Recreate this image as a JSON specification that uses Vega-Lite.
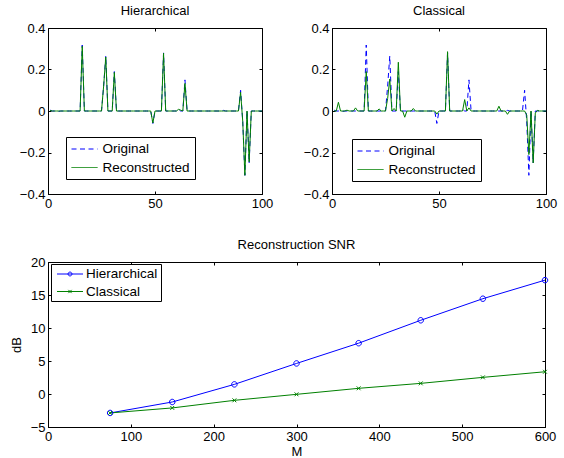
{
  "$schema": "https://vega.github.io/schema/vega-lite/v6.json",
  "padding": {"left": 9, "top": 4, "right": 5, "bottom": 5},
  "background": "white",
  "config": {
    "view": {"stroke": "black", "strokeWidth": 1},
    "axis": {"domainColor": "black", "domainWidth": 1, "tickColor": "black", "tickWidth": 1, "tickSize": -3, "labelPadding": 6, "labelFlush": false, "labelColor": "black", "labelFont": "Liberation Sans", "labelFontSize": 13, "titleFont": "Liberation Sans", "titleFontSize": 13, "titleFontWeight": "normal", "titleColor": "black", "grid": false},
    "title": {"font": "Liberation Sans", "fontSize": 13, "fontWeight": "normal", "color": "black", "offset": 4},
    "legend": {"labelFont": "Liberation Sans", "labelFontSize": 13.5, "labelColor": "black", "strokeColor": "black", "fillColor": "white", "cornerRadius": 0, "padding": 5, "title": null, "symbolType": "M-2,0H2", "symbolSize": 169, "symbolOffset": 6.5, "labelOffset": 11, "symbolStrokeWidth": 1, "symbolFillColor": "transparent"}
  },
  "datasets": {
    "hier": [
      {"x":1,"Original":0.004,"Reconstructed":0.003},{"x":2,"Original":0,"Reconstructed":0},{"x":3,"Original":0,"Reconstructed":0},{"x":4,"Original":0,"Reconstructed":0},{"x":5,"Original":-0.002,"Reconstructed":0},
      {"x":6,"Original":0,"Reconstructed":0},{"x":7,"Original":0,"Reconstructed":0},{"x":8,"Original":0,"Reconstructed":0},{"x":9,"Original":0,"Reconstructed":0},{"x":10,"Original":0,"Reconstructed":0},
      {"x":11,"Original":0,"Reconstructed":0},{"x":12,"Original":0,"Reconstructed":0},{"x":13,"Original":0,"Reconstructed":0},{"x":14,"Original":0,"Reconstructed":0},{"x":15,"Original":0,"Reconstructed":0},
      {"x":16,"Original":0.318,"Reconstructed":0.312},{"x":17,"Original":0,"Reconstructed":0},{"x":18,"Original":0,"Reconstructed":0},{"x":19,"Original":0,"Reconstructed":0},{"x":20,"Original":0,"Reconstructed":0},
      {"x":21,"Original":0,"Reconstructed":0},{"x":22,"Original":0,"Reconstructed":0},{"x":23,"Original":0,"Reconstructed":0},{"x":24,"Original":0,"Reconstructed":0},{"x":25,"Original":0,"Reconstructed":0},
      {"x":26,"Original":0.12,"Reconstructed":0.12},{"x":27,"Original":0.265,"Reconstructed":0.26},{"x":28,"Original":0,"Reconstructed":0},{"x":29,"Original":0,"Reconstructed":0},{"x":30,"Original":0,"Reconstructed":0},
      {"x":31,"Original":0.19,"Reconstructed":0.186},{"x":32,"Original":0,"Reconstructed":0},{"x":33,"Original":0,"Reconstructed":0},{"x":34,"Original":0,"Reconstructed":0},{"x":35,"Original":0,"Reconstructed":0},
      {"x":36,"Original":0,"Reconstructed":0},{"x":37,"Original":0,"Reconstructed":0},{"x":38,"Original":0,"Reconstructed":0},{"x":39,"Original":0,"Reconstructed":0},{"x":40,"Original":0,"Reconstructed":0},
      {"x":41,"Original":0,"Reconstructed":0},{"x":42,"Original":0,"Reconstructed":0},{"x":43,"Original":0,"Reconstructed":0},{"x":44,"Original":0,"Reconstructed":0},{"x":45,"Original":0,"Reconstructed":0},
      {"x":46,"Original":0,"Reconstructed":0},{"x":47,"Original":0,"Reconstructed":0},{"x":48,"Original":0,"Reconstructed":0},{"x":49,"Original":-0.06,"Reconstructed":-0.058},{"x":50,"Original":0,"Reconstructed":0},
      {"x":51,"Original":0,"Reconstructed":0},{"x":52,"Original":0,"Reconstructed":0},{"x":53,"Original":0,"Reconstructed":0},{"x":54,"Original":0.28,"Reconstructed":0.278},{"x":55,"Original":0,"Reconstructed":0},
      {"x":56,"Original":0,"Reconstructed":0},{"x":57,"Original":0,"Reconstructed":0},{"x":58,"Original":0,"Reconstructed":0},{"x":59,"Original":0,"Reconstructed":0},{"x":60,"Original":0,"Reconstructed":0},
      {"x":61,"Original":0.008,"Reconstructed":0.008},{"x":62,"Original":0,"Reconstructed":0.004},{"x":63,"Original":0,"Reconstructed":0},{"x":64,"Original":0.15,"Reconstructed":0.133},{"x":65,"Original":0,"Reconstructed":0},
      {"x":66,"Original":0,"Reconstructed":0},{"x":67,"Original":0,"Reconstructed":0},{"x":68,"Original":0,"Reconstructed":0},{"x":69,"Original":0.004,"Reconstructed":0},{"x":70,"Original":0,"Reconstructed":0},
      {"x":71,"Original":0,"Reconstructed":0},{"x":72,"Original":0,"Reconstructed":0},{"x":73,"Original":0,"Reconstructed":0},{"x":74,"Original":0,"Reconstructed":0},{"x":75,"Original":0,"Reconstructed":0},
      {"x":76,"Original":0,"Reconstructed":0},{"x":77,"Original":0,"Reconstructed":0},{"x":78,"Original":0,"Reconstructed":0},{"x":79,"Original":0,"Reconstructed":0},{"x":80,"Original":0,"Reconstructed":0},
      {"x":81,"Original":0,"Reconstructed":0},{"x":82,"Original":0.003,"Reconstructed":0},{"x":83,"Original":0,"Reconstructed":0},{"x":84,"Original":0,"Reconstructed":0},{"x":85,"Original":0,"Reconstructed":0},
      {"x":86,"Original":0,"Reconstructed":0},{"x":87,"Original":0,"Reconstructed":0},{"x":88,"Original":0,"Reconstructed":0},{"x":89,"Original":0,"Reconstructed":0},{"x":90,"Original":0.1,"Reconstructed":0.09},
      {"x":91,"Original":-0.05,"Reconstructed":-0.05},{"x":92,"Original":-0.31,"Reconstructed":-0.31},{"x":93,"Original":0,"Reconstructed":0},{"x":94,"Original":-0.25,"Reconstructed":-0.245},{"x":95,"Original":0,"Reconstructed":0},
      {"x":96,"Original":0,"Reconstructed":0},{"x":97,"Original":0,"Reconstructed":0},{"x":98,"Original":0,"Reconstructed":0},{"x":99,"Original":0,"Reconstructed":0},{"x":100,"Original":0,"Reconstructed":0}
    ],
    "clas": [
      {"x":1,"Original":0.004,"Reconstructed":0},{"x":2,"Original":0,"Reconstructed":0},{"x":3,"Original":0,"Reconstructed":0.042},{"x":4,"Original":0,"Reconstructed":0},{"x":5,"Original":-0.002,"Reconstructed":0},
      {"x":6,"Original":0,"Reconstructed":0},{"x":7,"Original":0,"Reconstructed":0.004},{"x":8,"Original":0,"Reconstructed":0},{"x":9,"Original":0,"Reconstructed":0},{"x":10,"Original":0,"Reconstructed":0},
      {"x":11,"Original":0,"Reconstructed":0.015},{"x":12,"Original":0,"Reconstructed":0},{"x":13,"Original":0,"Reconstructed":0},{"x":14,"Original":0,"Reconstructed":0},{"x":15,"Original":0,"Reconstructed":0},
      {"x":16,"Original":0.318,"Reconstructed":0.19},{"x":17,"Original":0,"Reconstructed":0},{"x":18,"Original":0,"Reconstructed":0},{"x":19,"Original":0,"Reconstructed":0},{"x":20,"Original":0,"Reconstructed":0},
      {"x":21,"Original":0,"Reconstructed":0},{"x":22,"Original":0,"Reconstructed":0.01},{"x":23,"Original":0,"Reconstructed":0},{"x":24,"Original":0,"Reconstructed":0},{"x":25,"Original":0,"Reconstructed":0},
      {"x":26,"Original":0.12,"Reconstructed":0.06},{"x":27,"Original":0.265,"Reconstructed":0.154},{"x":28,"Original":0,"Reconstructed":0},{"x":29,"Original":0,"Reconstructed":0.012},{"x":30,"Original":0,"Reconstructed":0},
      {"x":31,"Original":0.19,"Reconstructed":0.235},{"x":32,"Original":0,"Reconstructed":0},{"x":33,"Original":0,"Reconstructed":0},{"x":34,"Original":0,"Reconstructed":-0.03},{"x":35,"Original":0,"Reconstructed":0},
      {"x":36,"Original":0,"Reconstructed":0},{"x":37,"Original":0,"Reconstructed":0},{"x":38,"Original":0,"Reconstructed":0.012},{"x":39,"Original":0,"Reconstructed":0},{"x":40,"Original":0,"Reconstructed":0},
      {"x":41,"Original":0,"Reconstructed":0},{"x":42,"Original":0,"Reconstructed":0},{"x":43,"Original":0,"Reconstructed":0},{"x":44,"Original":0,"Reconstructed":0},{"x":45,"Original":0,"Reconstructed":0},
      {"x":46,"Original":0,"Reconstructed":0},{"x":47,"Original":0,"Reconstructed":0},{"x":48,"Original":0,"Reconstructed":0},{"x":49,"Original":-0.06,"Reconstructed":-0.015},{"x":50,"Original":0,"Reconstructed":0},
      {"x":51,"Original":0,"Reconstructed":0},{"x":52,"Original":0,"Reconstructed":0},{"x":53,"Original":0,"Reconstructed":0},{"x":54,"Original":0.28,"Reconstructed":0.286},{"x":55,"Original":0,"Reconstructed":0},
      {"x":56,"Original":0,"Reconstructed":0},{"x":57,"Original":0,"Reconstructed":0},{"x":58,"Original":0,"Reconstructed":0},{"x":59,"Original":0,"Reconstructed":0},{"x":60,"Original":0,"Reconstructed":0},
      {"x":61,"Original":0.008,"Reconstructed":0},{"x":62,"Original":0,"Reconstructed":0.055},{"x":63,"Original":0,"Reconstructed":0},{"x":64,"Original":0.15,"Reconstructed":0.015},{"x":65,"Original":0,"Reconstructed":0},
      {"x":66,"Original":0,"Reconstructed":0},{"x":67,"Original":0,"Reconstructed":0},{"x":68,"Original":0,"Reconstructed":0},{"x":69,"Original":0.004,"Reconstructed":0},{"x":70,"Original":0,"Reconstructed":0},
      {"x":71,"Original":0,"Reconstructed":0},{"x":72,"Original":0,"Reconstructed":0},{"x":73,"Original":0,"Reconstructed":0},{"x":74,"Original":0,"Reconstructed":0},{"x":75,"Original":0,"Reconstructed":0},
      {"x":76,"Original":0,"Reconstructed":0},{"x":77,"Original":0,"Reconstructed":0},{"x":78,"Original":0,"Reconstructed":0.023},{"x":79,"Original":0,"Reconstructed":0},{"x":80,"Original":0,"Reconstructed":0},
      {"x":81,"Original":0,"Reconstructed":0},{"x":82,"Original":0.003,"Reconstructed":-0.016},{"x":83,"Original":0,"Reconstructed":0},{"x":84,"Original":0,"Reconstructed":0},{"x":85,"Original":0,"Reconstructed":0},
      {"x":86,"Original":0,"Reconstructed":0},{"x":87,"Original":0,"Reconstructed":0},{"x":88,"Original":0,"Reconstructed":0},{"x":89,"Original":0,"Reconstructed":0},{"x":90,"Original":0.1,"Reconstructed":0},
      {"x":91,"Original":-0.05,"Reconstructed":-0.02},{"x":92,"Original":-0.31,"Reconstructed":-0.21},{"x":93,"Original":0,"Reconstructed":0},{"x":94,"Original":-0.25,"Reconstructed":-0.25},{"x":95,"Original":0,"Reconstructed":-0.01},
      {"x":96,"Original":0,"Reconstructed":0.003},{"x":97,"Original":0,"Reconstructed":0},{"x":98,"Original":0,"Reconstructed":0},{"x":99,"Original":0,"Reconstructed":0},{"x":100,"Original":0,"Reconstructed":0}
    ],
    "snr": [
      {"M":75,"dB":-2.87,"method":"Hierarchical"},{"M":150,"dB":-1.21,"method":"Hierarchical"},{"M":225,"dB":1.46,"method":"Hierarchical"},{"M":300,"dB":4.63,"method":"Hierarchical"},
      {"M":375,"dB":7.7,"method":"Hierarchical"},{"M":450,"dB":11.17,"method":"Hierarchical"},{"M":525,"dB":14.44,"method":"Hierarchical"},{"M":600,"dB":17.25,"method":"Hierarchical"},
      {"M":75,"dB":-2.87,"method":"Classical"},{"M":150,"dB":-2.11,"method":"Classical"},{"M":225,"dB":-0.96,"method":"Classical"},{"M":300,"dB":-0.05,"method":"Classical"},
      {"M":375,"dB":0.86,"method":"Classical"},{"M":450,"dB":1.61,"method":"Classical"},{"M":525,"dB":2.52,"method":"Classical"},{"M":600,"dB":3.37,"method":"Classical"}
    ]
  },
  "spacing": 27,
  "resolve": {"scale": {"color": "independent"}, "legend": {"color": "independent"}},
  "vconcat": [
    {
      "spacing": 28,
      "resolve": {"scale": {"color": "independent"}, "legend": {"color": "independent"}},
      "hconcat": [
        {
          "title": "Hierarchical",
          "width": 214, "height": 166,
          "data": {"name": "hier"},
          "transform": [{"fold": ["Original", "Reconstructed"], "as": ["series", "y"]}],
          "resolve": {"axis": {"x": "independent", "y": "independent"}},
          "layer": [
            {
              "transform": [{"filter": "datum.series === 'Original'"}],
              "mark": {"type": "line", "strokeWidth": 1, "strokeDash": [5, 3.5]},
              "encoding": {
                "x": {"field": "x", "type": "quantitative", "scale": {"domain": [0, 100], "nice": false}, "axis": {"orient": "bottom", "values": [0, 50, 100], "title": null}},
                "y": {"field": "y", "type": "quantitative", "scale": {"domain": [-0.4, 0.4], "nice": false, "zero": false}, "axis": {"orient": "left", "values": [-0.4, -0.2, 0, 0.2, 0.4], "format": "~g", "title": " ", "titlePadding": -4}},
                "color": {"field": "series", "type": "nominal", "scale": {"domain": ["Original", "Reconstructed"], "range": ["#0000ff", "#008000"]}, "legend": {"orient": "none", "legendX": 18, "legendY": 109, "rowPadding": 4.5, "encode": {"symbols": {"update": {"strokeDash": {"signal": "datum.value === 'Original' ? [5, 3.5] : [1, 0]"}, "fill": {"value": "transparent"}}}}}}
              }
            },
            {
              "transform": [{"filter": "datum.series === 'Reconstructed'"}],
              "mark": {"type": "line", "strokeWidth": 1},
              "encoding": {
                "x": {"field": "x", "type": "quantitative", "scale": {"domain": [0, 100], "nice": false}, "axis": {"orient": "top", "values": [0, 50, 100], "title": null, "labels": false, "domain": false}},
                "y": {"field": "y", "type": "quantitative", "scale": {"domain": [-0.4, 0.4], "nice": false, "zero": false}, "axis": {"orient": "right", "values": [-0.4, -0.2, 0, 0.2, 0.4], "title": null, "labels": false, "domain": false}},
                "color": {"field": "series", "type": "nominal", "scale": {"domain": ["Original", "Reconstructed"], "range": ["#0000ff", "#008000"]}, "legend": {"orient": "none", "legendX": 18, "legendY": 109, "rowPadding": 4.5, "encode": {"symbols": {"update": {"strokeDash": {"signal": "datum.value === 'Original' ? [5, 3.5] : [1, 0]"}, "fill": {"value": "transparent"}}}}}}
              }
            }
          ]
        },
        {
          "title": "Classical",
          "width": 214, "height": 166,
          "data": {"name": "clas"},
          "transform": [{"fold": ["Original", "Reconstructed"], "as": ["series", "y"]}],
          "resolve": {"axis": {"x": "independent", "y": "independent"}},
          "layer": [
            {
              "transform": [{"filter": "datum.series === 'Original'"}],
              "mark": {"type": "line", "strokeWidth": 1, "strokeDash": [5, 3.5]},
              "encoding": {
                "x": {"field": "x", "type": "quantitative", "scale": {"domain": [0, 100], "nice": false}, "axis": {"orient": "bottom", "values": [0, 50, 100], "title": null}},
                "y": {"field": "y", "type": "quantitative", "scale": {"domain": [-0.4, 0.4], "nice": false, "zero": false}, "axis": {"orient": "left", "values": [-0.4, -0.2, 0, 0.2, 0.4], "format": "~g", "title": null}},
                "color": {"field": "series", "type": "nominal", "scale": {"domain": ["Original", "Reconstructed"], "range": ["#0000ff", "#008000"]}, "legend": {"orient": "none", "legendX": 20, "legendY": 111, "rowPadding": 4.5, "encode": {"symbols": {"update": {"strokeDash": {"signal": "datum.value === 'Original' ? [5, 3.5] : [1, 0]"}, "fill": {"value": "transparent"}}}}}}
              }
            },
            {
              "transform": [{"filter": "datum.series === 'Reconstructed'"}],
              "mark": {"type": "line", "strokeWidth": 1},
              "encoding": {
                "x": {"field": "x", "type": "quantitative", "scale": {"domain": [0, 100], "nice": false}, "axis": {"orient": "top", "values": [0, 50, 100], "title": null, "labels": false, "domain": false}},
                "y": {"field": "y", "type": "quantitative", "scale": {"domain": [-0.4, 0.4], "nice": false, "zero": false}, "axis": {"orient": "right", "values": [-0.4, -0.2, 0, 0.2, 0.4], "title": null, "labels": false, "domain": false}},
                "color": {"field": "series", "type": "nominal", "scale": {"domain": ["Original", "Reconstructed"], "range": ["#0000ff", "#008000"]}, "legend": {"orient": "none", "legendX": 20, "legendY": 111, "rowPadding": 4.5, "encode": {"symbols": {"update": {"strokeDash": {"signal": "datum.value === 'Original' ? [5, 3.5] : [1, 0]"}, "fill": {"value": "transparent"}}}}}}
              }
            }
          ]
        }
      ]
    },
    {
      "title": "Reconstruction SNR",
      "width": 497, "height": 165,
      "data": {"name": "snr"},
      "resolve": {"axis": {"x": "independent", "y": "independent"}},
      "layer": [
        {
          "mark": {"type": "line", "strokeWidth": 1},
          "encoding": {
            "x": {"field": "M", "type": "quantitative", "scale": {"domain": [0, 600], "nice": false}, "axis": {"orient": "bottom", "values": [0, 100, 200, 300, 400, 500, 600], "title": "M", "titlePadding": 2}},
            "y": {"field": "dB", "type": "quantitative", "scale": {"domain": [-5, 20], "nice": false, "zero": false}, "axis": {"orient": "left", "values": [-5, 0, 5, 10, 15, 20], "title": "dB", "titlePadding": 7}},
            "color": {"field": "method", "type": "nominal", "scale": {"domain": ["Hierarchical", "Classical"], "range": ["#0000ff", "#008000"]}, "legend": {"orient": "none", "legendX": 3, "legendY": 2, "padding": 3, "rowPadding": 3.5, "symbolOffset": 9, "labelOffset": 9, "encode": {"symbols": {"update": {"shape": {"signal": "datum.value === 'Hierarchical' ? 'M-2,0H2M0.3,0A0.3,0.3 0 1,1 -0.3,0A0.3,0.3 0 1,1 0.3,0' : 'M-2,0H2M-0.25,-0.25L0.25,0.25M-0.25,0.25L0.25,-0.25'"}, "fill": {"value": "transparent"}, "strokeWidth": {"value": 1}}}}}}
          }
        },
        {
          "transform": [{"filter": "datum.method === 'Hierarchical'"}],
          "mark": {"type": "point", "filled": false, "strokeWidth": 1, "size": 30, "opacity": 1, "color": "#0000ff", "shape": "M1,0A1,1 0 1,1 -1,0A1,1 0 1,1 1,0"},
          "encoding": {
            "x": {"field": "M", "type": "quantitative", "scale": {"domain": [0, 600], "nice": false}, "axis": {"orient": "top", "values": [0, 100, 200, 300, 400, 500, 600], "title": null, "labels": false, "domain": false}},
            "y": {"field": "dB", "type": "quantitative", "scale": {"domain": [-5, 20], "nice": false, "zero": false}, "axis": {"orient": "right", "values": [-5, 0, 5, 10, 15, 20], "title": null, "labels": false, "domain": false}}
          }
        },
        {
          "transform": [{"filter": "datum.method === 'Classical'"}],
          "mark": {"type": "point", "filled": false, "strokeWidth": 1, "size": 30, "opacity": 1, "color": "#008000", "shape": "M-0.7,-0.7L0.7,0.7M-0.7,0.7L0.7,-0.7"},
          "encoding": {
            "x": {"field": "M", "type": "quantitative", "scale": {"domain": [0, 600], "nice": false}, "axis": null},
            "y": {"field": "dB", "type": "quantitative", "scale": {"domain": [-5, 20], "nice": false, "zero": false}, "axis": null}
          }
        }
      ]
    }
  ]
}
